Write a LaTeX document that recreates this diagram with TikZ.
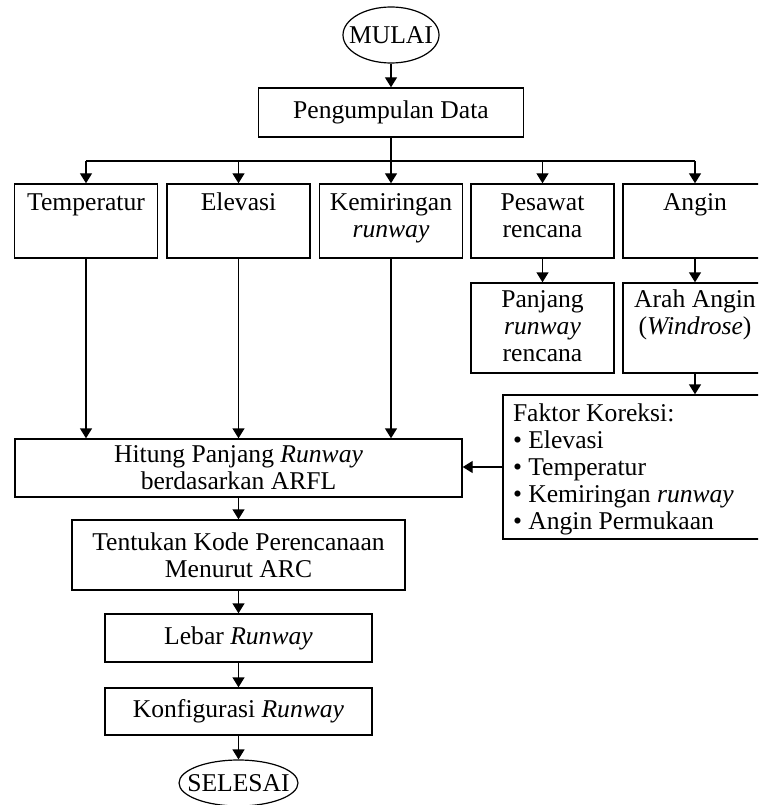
\documentclass[tikz,border=0pt]{standalone}
\usepackage{fontspec}
\setmainfont{Liberation Serif}
\usetikzlibrary{arrows.meta,shapes.geometric}

% fixed-size cell with its text hung from the top edge
\newcommand{\topcell}[4]{\parbox[c][#2][t]{#1}{\centering\rule{0pt}{#3}#4}}

\begin{document}
\begin{tikzpicture}[x=1pt,y=-1pt,
  every node/.style={font=\fontsize{25.6}{27}\selectfont},
  arr/.style={line width=1.4pt,-{Triangle[length=10pt,width=12pt]}},
  line/.style={line width=1.4pt},
  box/.style={draw,line width=1.4pt,rectangle,inner sep=0pt},
  cbox/.style={box,align=center},
  oval/.style={draw,line width=1.2pt,ellipse,inner sep=0pt}]
\useasboundingbox (0,0) rectangle (758,805);
\clip (0,0) rectangle (758,805);

% start and data collection
\node[oval,minimum width=96pt,minimum height=56pt] (mulai) at (391,35) {\makebox[0pt]{MULAI}};
\node[cbox,minimum width=265pt,minimum height=49pt] (data) at (391,112.5) {Pengumpulan Data};

% data items
\node[box] (temp)    at (86,221)    {\topcell{143pt}{74pt}{26pt}{Temperatur}};
\node[box] (elev)    at (238.5,221) {\topcell{143pt}{74pt}{26pt}{Elevasi}};
\node[box] (kemir)   at (391,221)   {\topcell{143pt}{74pt}{26pt}{Kemiringan\\\textit{runway}}};
\node[box] (pesawat) at (542.5,221) {\topcell{143pt}{74pt}{26pt}{Pesawat\\rencana}};
\node[box] (angin)   at (695,221)   {\topcell{144pt}{74pt}{26pt}{Angin}};

\node[box] (panjang) at (542.5,328) {\topcell{143pt}{90pt}{24.5pt}{Panjang\\\textit{runway}\\rencana}};
\node[box] (arah)    at (695,328)   {\topcell{144pt}{90pt}{24.5pt}{Arah Angin\\(\textit{Windrose})}};

% correction factors
\node[box] (faktor) at (641.5,467) {\parbox[c][144pt][t]{277pt}{\raggedright\leftskip=10pt
  \rule{0pt}{26pt}Faktor Koreksi:\\
  • Elevasi\\
  • Temperatur\\
  • Kemiringan \textit{runway}\\
  • Angin Permukaan}};

% main sequence
\node[cbox,minimum width=447pt,minimum height=58pt] (hitung) at (238.5,468)
  {Hitung Panjang \textit{Runway}\\berdasarkan ARFL};
\node[cbox,minimum width=333pt,minimum height=70pt] (kode) at (238.5,555)
  {Tentukan Kode Perencanaan\\Menurut ARC};
\node[cbox,minimum width=267pt,minimum height=48pt] (lebar) at (238.5,638)
  {Lebar \textit{Runway}};
\node[cbox,minimum width=267pt,minimum height=47pt] (konfig) at (238.5,711.5)
  {Konfigurasi \textit{Runway}};
\node[oval,minimum width=119pt,minimum height=46pt] (selesai) at (238.5,783) {\makebox[0pt]{SELESAI}};

% connectors
\coordinate (bus) at (391,161);
\draw[arr] (mulai) -- (data);
\draw[line] (data) -- (bus);
\draw[line] (bus -| temp.north) -- (bus -| angin.north);
\foreach \n in {temp,elev,kemir,pesawat,angin}
  \draw[arr] (bus -| \n.north) -- (\n);

\draw[arr] (pesawat) -- (panjang);
\draw[arr] (angin) -- (arah);
\draw[arr] (arah) -- (arah |- faktor.north);

\foreach \n in {temp,elev,kemir}
  \draw[arr] (\n) -- (\n |- hitung.north);
\draw[arr] (faktor.west) -- (faktor.west -| hitung.east);

\draw[arr] (hitung) -- (kode);
\draw[arr] (kode) -- (lebar);
\draw[arr] (lebar) -- (konfig);
\draw[arr] (konfig) -- (selesai);
\end{tikzpicture}
\end{document}
